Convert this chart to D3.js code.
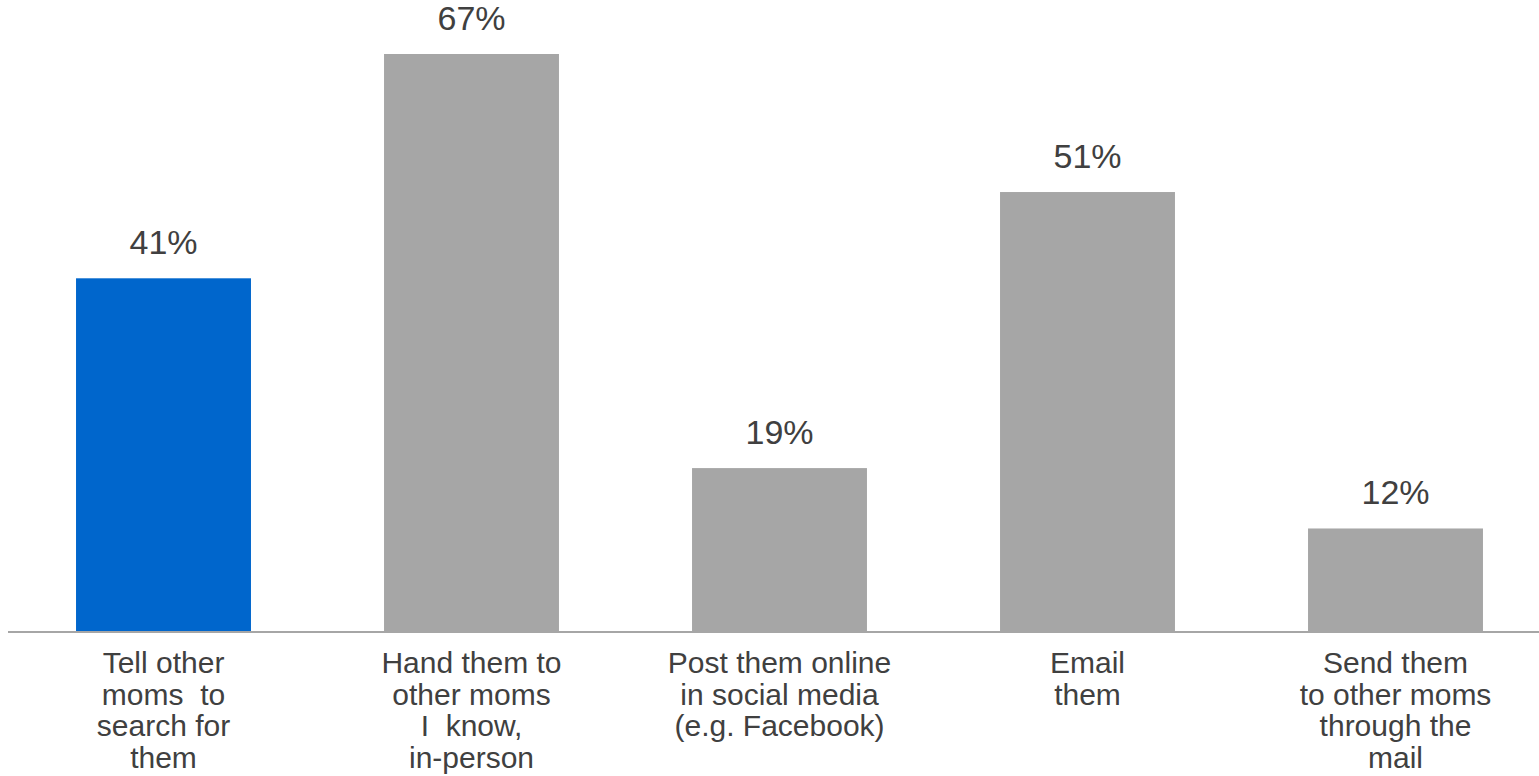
<!DOCTYPE html>
<html>
<head>
<meta charset="utf-8">
<script src="https://cdn.jsdelivr.net/npm/d3@7"></script>
<style>
  html, body { margin: 0; padding: 0; background: #ffffff; }
  svg { display: block; }
  text { font-family: "Liberation Sans", Arial, sans-serif; fill: #404040; white-space: pre; }
</style>
</head>
<body>
<svg id="chart" width="1539" height="776"></svg>
<script>
// How moms share: share of respondents per method
const categories = [
  ["Tell other", "moms  to", "search for", "them"],
  ["Hand them to", "other moms", "I  know,", "in-person"],
  ["Post them online", "in social media", "(e.g. Facebook)"],
  ["Email", "them"],
  ["Send them", "to other moms", "through the", "mail"]
];
const values = [41, 67, 19, 51, 12];
const highlight = [true, false, false, false, false];

const W = 1539, H = 776;
const baseline = 632;

const svg = d3.select("#chart");
const keys = categories.map((c, i) => i);

const x = d3.scaleBand()
  .domain(keys)
  .range([9.5, 1549.5])
  .paddingInner(0.432)
  .paddingOuter(0.216);

const y = d3.scaleLinear()
  .domain([0, 67])
  .range([baseline, 54]);

// bars
svg.append("g")
  .selectAll("rect")
  .data(values)
  .join("rect")
  .attr("x", (d, i) => x(i))
  .attr("y", d => y(d))
  .attr("width", x.bandwidth())
  .attr("height", d => baseline - y(d))
  .attr("fill", (d, i) => highlight[i] ? "#0066cc" : "#a6a6a6");

// value labels
svg.append("g")
  .selectAll("text")
  .data(values)
  .join("text")
  .attr("x", (d, i) => x(i) + x.bandwidth() / 2)
  .attr("y", d => y(d) - 24)
  .attr("text-anchor", "middle")
  .style("font-size", "34px")
  .text(d => d + "%");

// category axis: baseline rule plus wrapped labels
const xAxis = d3.axisBottom(x).tickSize(0).tickFormat("");
const axisG = svg.append("g")
  .attr("transform", `translate(0,${baseline})`)
  .call(xAxis);
axisG.select(".domain").remove();

axisG.append("line")
  .attr("x1", 8).attr("x2", W)
  .attr("y1", 0).attr("y2", 0)
  .attr("stroke", "#a6a6a6")
  .attr("stroke-width", 2);

axisG.selectAll(".tick").each(function(d) {
  const t = d3.select(this).append("text")
    .attr("text-anchor", "middle")
    .style("font-size", "30px");
  categories[d].forEach((line, j) => {
    t.append("tspan")
      .attr("x", 0)
      .attr("y", 41 + j * 31.5)
      .text(line);
  });
});
</script>
</body>
</html>
